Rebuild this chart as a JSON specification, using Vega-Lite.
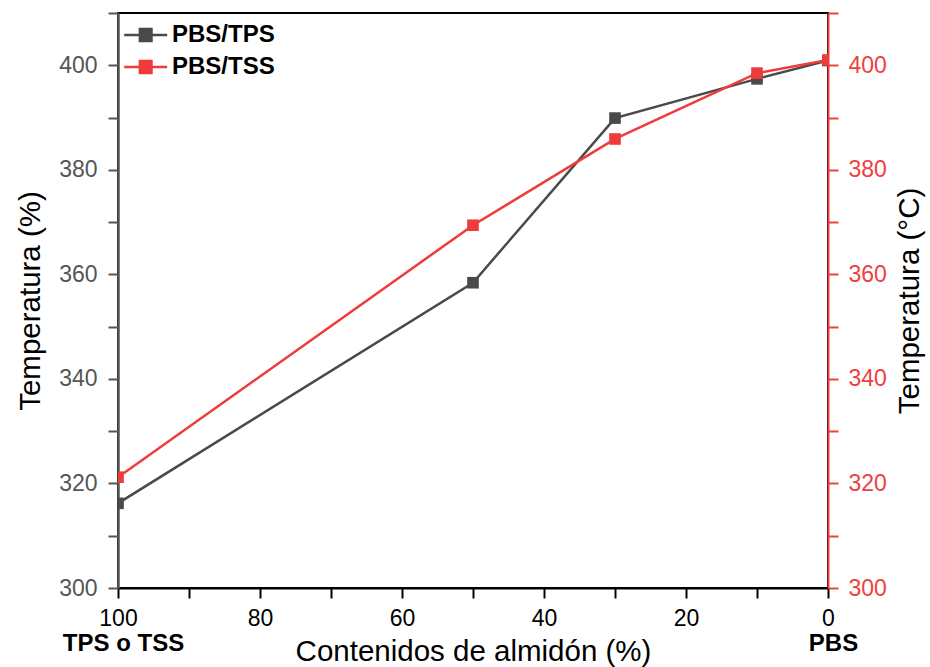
{
  "$schema": "https://vega.github.io/schema/vega-lite/v6.json",
  "width": 710,
  "height": 575,
  "autosize": {"type": "none"},
  "padding": {"left": 118, "top": 13, "right": 102, "bottom": 79},
  "background": "#ffffff",
  "config": {
    "view": {"stroke": "#000000", "strokeWidth": 2},
    "font": "Liberation Sans",
    "axis": {"grid": false, "labelFont": "Liberation Sans", "titleFont": "Liberation Sans", "titleFontWeight": "normal", "labelOverlap": false, "labelFlush": false}
  },
  "data": {
    "values": [
      {"series": "PBS/TPS", "almidon": 100, "temp": 316.2},
      {"series": "PBS/TPS", "almidon": 50, "temp": 358.4},
      {"series": "PBS/TPS", "almidon": 30, "temp": 389.9},
      {"series": "PBS/TPS", "almidon": 10, "temp": 397.4},
      {"series": "PBS/TPS", "almidon": 0, "temp": 400.9},
      {"series": "PBS/TSS", "almidon": 100, "temp": 321.2},
      {"series": "PBS/TSS", "almidon": 50, "temp": 369.4},
      {"series": "PBS/TSS", "almidon": 30, "temp": 385.9},
      {"series": "PBS/TSS", "almidon": 10, "temp": 398.5},
      {"series": "PBS/TSS", "almidon": 0, "temp": 401.0}
    ]
  },
  "layer": [
    {
      "transform": [{"filter": "datum.series === 'PBS/TPS'"}],
      "mark": {"type": "line", "clip": true, "strokeWidth": 2.5, "point": {"shape": "square", "size": 135, "filled": true, "opacity": 1}},
      "encoding": {
        "x": {
          "field": "almidon", "type": "quantitative",
          "scale": {"domain": [0, 100], "reverse": true, "nice": false, "zero": false},
          "axis": {
            "orient": "bottom",
            "title": "Contenidos de almidón (%)",
            "titleFontSize": 29.5, "titleColor": "#000000", "titlePadding": 7,
            "values": [0, 10, 20, 30, 40, 50, 60, 70, 80, 90, 100],
            "labelExpr": "datum.value % 20 === 0 ? datum.label : ''",
            "labelFontSize": 23, "labelColor": "#000000", "labelPadding": 9.5,
            "tickSize": 10, "tickWidth": 2, "tickColor": "#000000",
            "domainColor": "#000000", "domainWidth": 2,
            "encode": {"ticks": {"update": {"y2": {"signal": "datum.value % 20 === 0 ? 10 : 5"}}}}
          }
        },
        "y": {
          "field": "temp", "type": "quantitative",
          "scale": {"domain": [300, 410], "nice": false, "zero": false},
          "axis": {
            "orient": "left",
            "title": "Temperatura (%)",
            "titleFontSize": 29.5, "titleColor": "#000000", "titlePadding": 13,
            "values": [300, 310, 320, 330, 340, 350, 360, 370, 380, 390, 400, 410],
            "labelExpr": "datum.value % 20 === 0 ? datum.label : ''",
            "labelFontSize": 23, "labelColor": "#555555", "labelPadding": 11,
            "tickSize": 10, "tickWidth": 2, "tickColor": "#555555",
            "domainColor": "#555555", "domainWidth": 2.5,
            "encode": {"ticks": {"update": {"x2": {"signal": "datum.value % 20 === 0 ? -10 : -5"}}}}
          }
        },
        "color": {
          "field": "series", "type": "nominal",
          "scale": {"domain": ["PBS/TPS", "PBS/TSS"], "range": ["#4a4a4a", "#ef3b3b"]},
          "legend": {
            "title": null,
            "orient": "top-left",
            "offset": 8,
            "padding": 2,
            "labelFont": "Liberation Sans",
            "labelFontSize": 24,
            "labelFontWeight": "bold",
            "labelColor": "#000000",
            "symbolType": "M-1.47,0H2.53M-0.01,-0.55H1.07V0.55H-0.01Z",
            "symbolSize": 462,
            "symbolStrokeWidth": 2.5,
            "labelOffset": 20,
            "rowPadding": 8,
            "encode": {"symbols": {"update": {"fill": {"scale": "color", "field": "value"}, "stroke": {"scale": "color", "field": "value"}, "opacity": {"value": 1}}}}
          }
        }
      }
    },
    {
      "transform": [{"filter": "datum.series === 'PBS/TSS'"}],
      "mark": {"type": "line", "clip": true, "strokeWidth": 2.5, "point": {"shape": "square", "size": 135, "filled": true, "opacity": 1}},
      "encoding": {
        "x": {
          "field": "almidon", "type": "quantitative",
          "scale": {"domain": [0, 100], "reverse": true, "nice": false, "zero": false},
          "axis": {
            "orient": "bottom",
            "title": null,
            "values": [0, 100],
            "labelExpr": "datum.value === 100 ? 'TPS o TSS' : 'PBS'",
            "labelFontSize": 24, "labelFontWeight": "bold", "labelColor": "#000000",
            "labelPadding": 43, "labelOffset": 5,
            "ticks": false, "tickSize": 0, "domain": false
          }
        },
        "y": {
          "field": "temp", "type": "quantitative",
          "scale": {"domain": [300, 410], "nice": false, "zero": false},
          "axis": {
            "orient": "right",
            "title": "Temperatura (°C)",
            "titleFontSize": 29.5, "titleColor": "#000000", "titlePadding": 9,
            "titleAngle": 270, "titleBaseline": "top",
            "values": [300, 310, 320, 330, 340, 350, 360, 370, 380, 390, 400, 410],
            "labelExpr": "datum.value % 20 === 0 ? datum.label : ''",
            "labelFontSize": 23, "labelColor": "#ef4040", "labelPadding": 10,
            "tickSize": 10, "tickWidth": 2, "tickColor": "#ef4040",
            "domainColor": "#ef4040", "domainWidth": 2,
            "encode": {"ticks": {"update": {"x2": {"signal": "datum.value % 20 === 0 ? 10 : 5"}}}}
          }
        },
        "color": {
          "field": "series", "type": "nominal",
          "scale": {"domain": ["PBS/TPS", "PBS/TSS"], "range": ["#4a4a4a", "#ef3b3b"]}
        }
      }
    }
  ],
  "resolve": {"scale": {"x": "independent", "y": "independent"}}
}
